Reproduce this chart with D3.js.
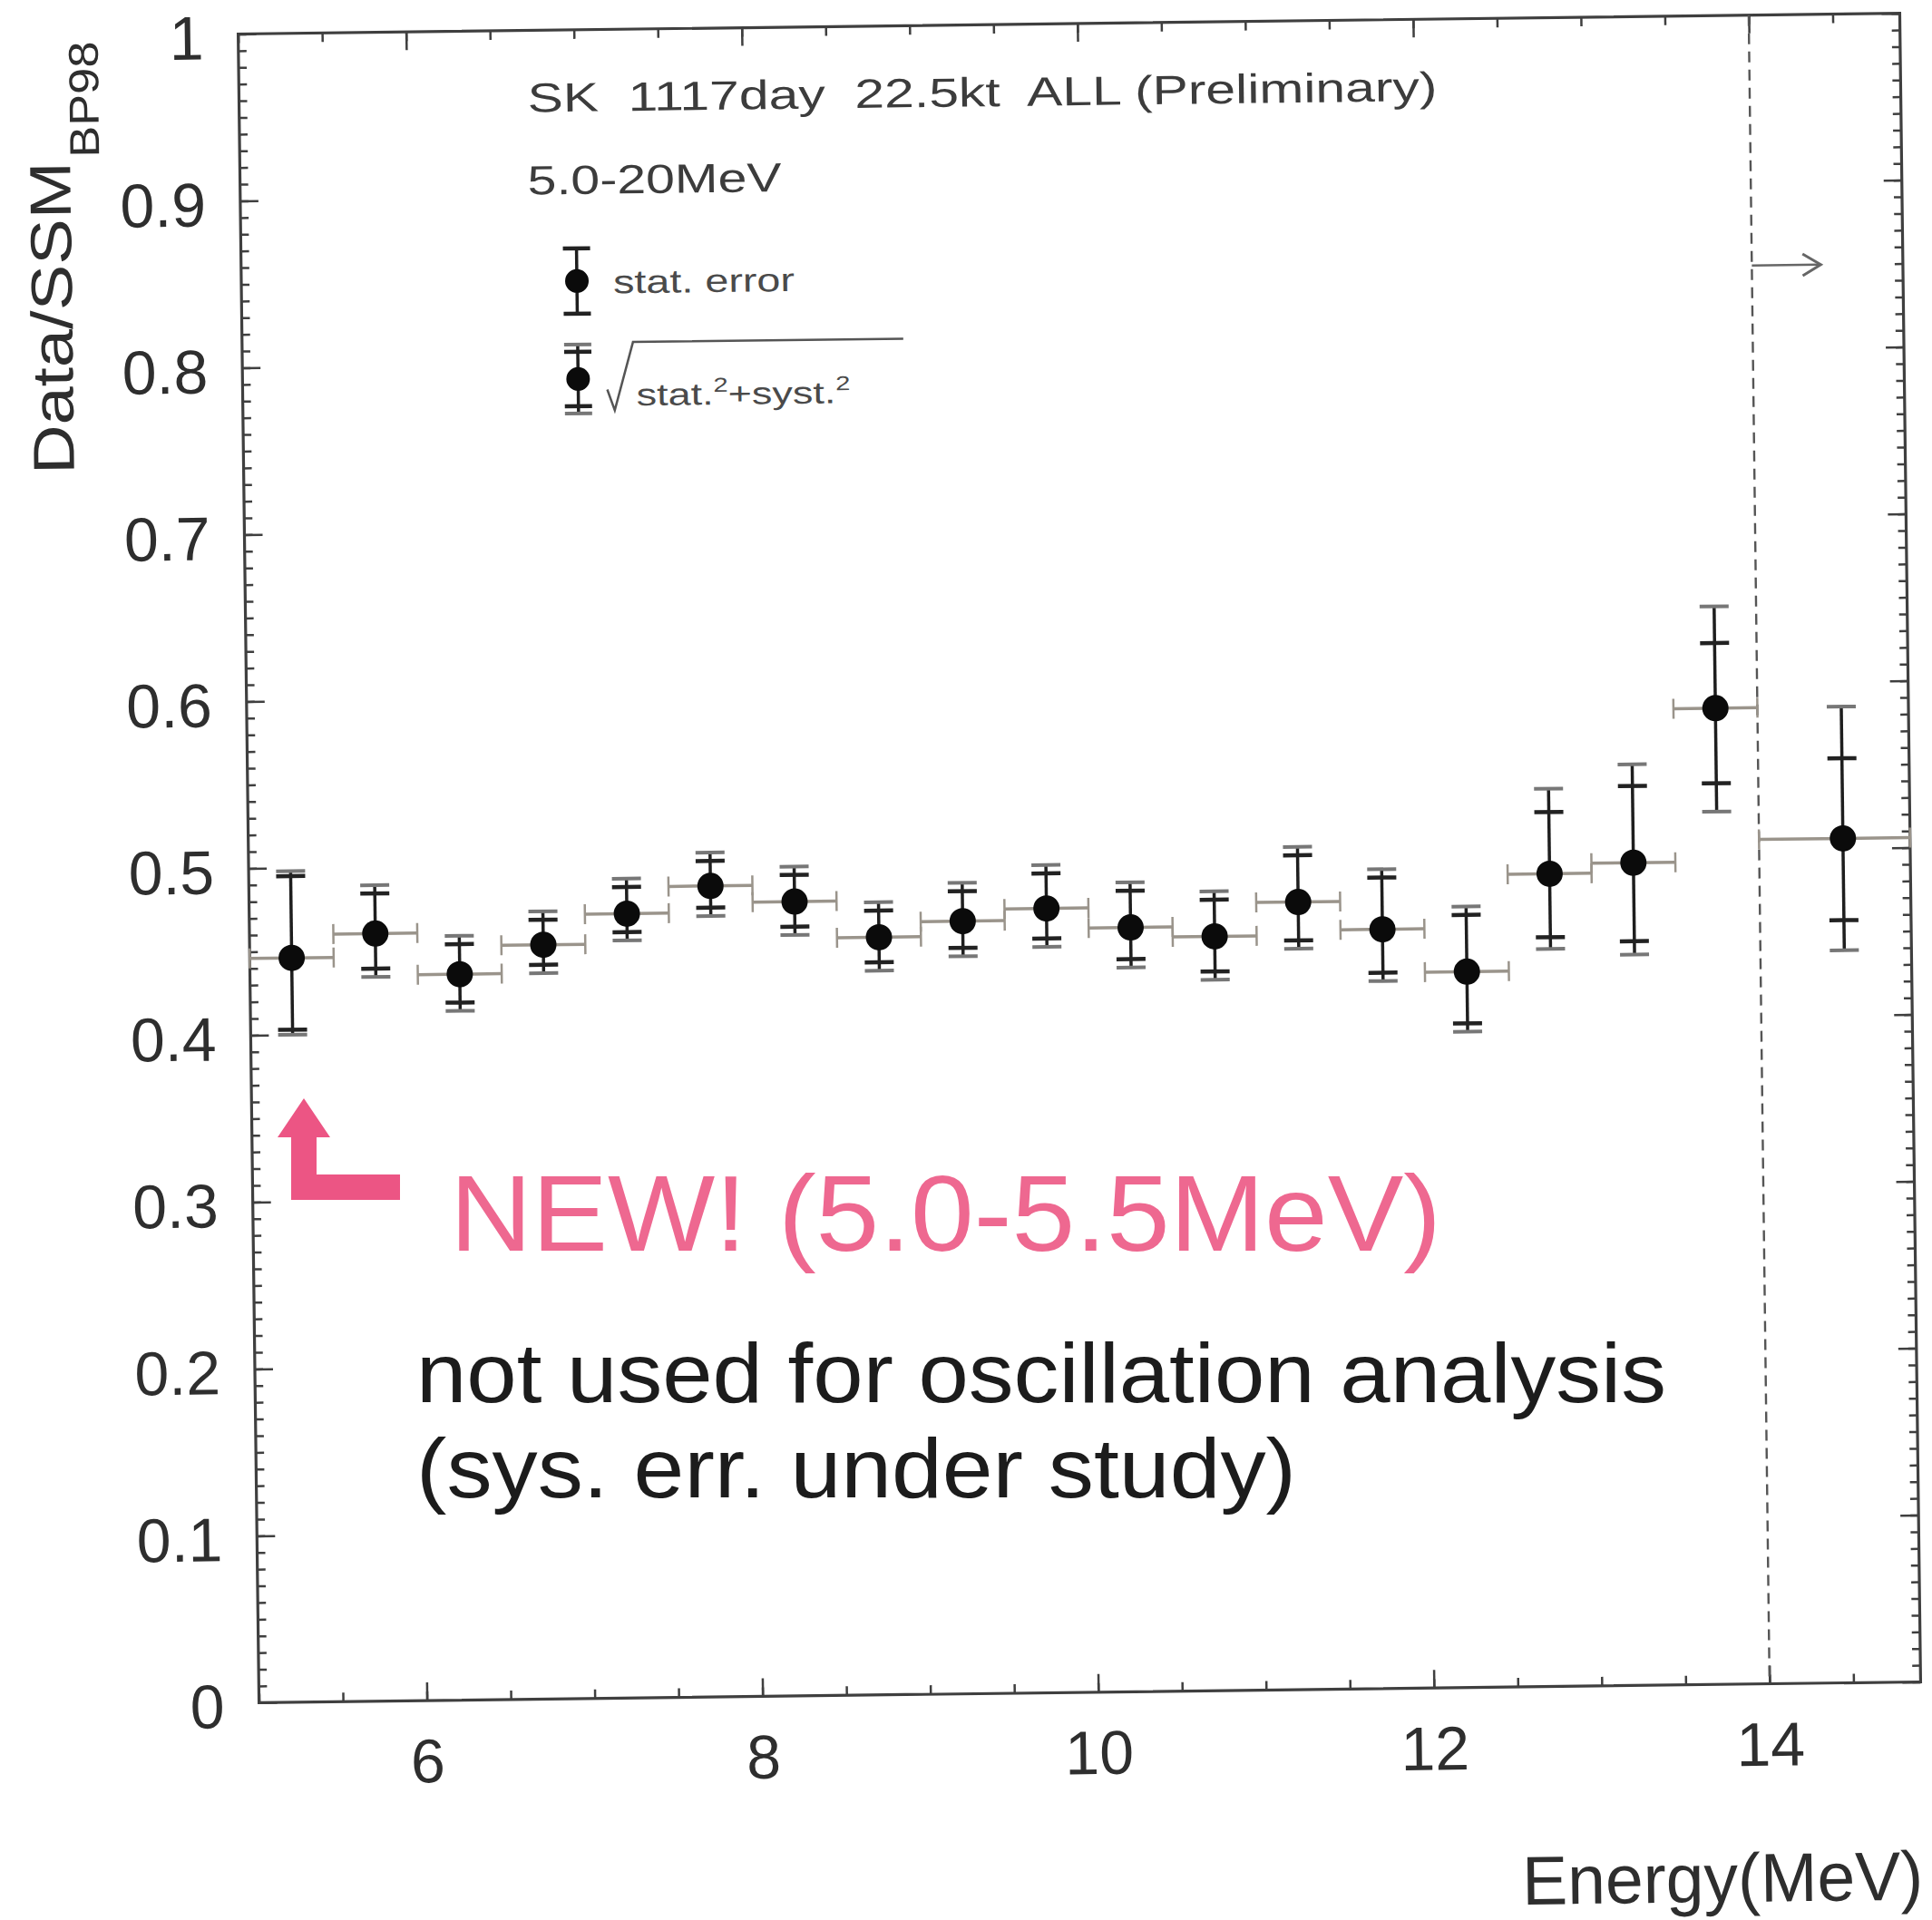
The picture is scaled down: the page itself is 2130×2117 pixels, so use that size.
<!DOCTYPE html>
<html>
<head>
<meta charset="utf-8">
<script src="https://cdn.jsdelivr.net/npm/d3@7"></script>
<style>
  html, body { margin: 0; padding: 0; background: #fff; }
  svg { display: block; }
</style>
</head>
<body>
<svg id="chart" width="2130" height="2117"></svg>
<script>
// ---- Data: SK 1117-day recoil-electron energy spectrum, Data / SSM(BP98) ----
// Bin centres in MeV; the last entry stands for the 14-20 MeV bin drawn in the right-hand panel.
const energy   = [5.25, 5.75, 6.25, 6.75, 7.25, 7.75, 8.25, 8.75, 9.25, 9.75,
                  10.25, 10.75, 11.25, 11.75, 12.25, 12.75, 13.25, 13.75, 14.5];
const binLow   = [5.0, 5.5, 6.0, 6.5, 7.0, 7.5, 8.0, 8.5, 9.0, 9.5,
                  10.0, 10.5, 11.0, 11.5, 12.0, 12.5, 13.0, 13.5, 14.0];
const binHigh  = [5.5, 6.0, 6.5, 7.0, 7.5, 8.0, 8.5, 9.0, 9.5, 10.0,
                  10.5, 11.0, 11.5, 12.0, 12.5, 13.0, 13.5, 14.0, 14.9];
const ratio    = [0.446, 0.460, 0.435, 0.452, 0.470, 0.486, 0.476, 0.454, 0.463, 0.470,
                  0.458, 0.452, 0.472, 0.455, 0.429, 0.487, 0.493, 0.585, 0.506];
const statLow  = [0.403, 0.439, 0.418, 0.440, 0.459, 0.473, 0.461, 0.439, 0.447, 0.452,
                  0.439, 0.431, 0.449, 0.429, 0.398, 0.449, 0.446, 0.540, 0.457];
const statHigh = [0.495, 0.484, 0.453, 0.467, 0.486, 0.501, 0.492, 0.470, 0.481, 0.491,
                  0.480, 0.474, 0.500, 0.486, 0.463, 0.524, 0.539, 0.624, 0.554];
const totalLow = [0.400, 0.434, 0.413, 0.435, 0.454, 0.468, 0.456, 0.434, 0.442, 0.447,
                  0.434, 0.426, 0.444, 0.424, 0.393, 0.442, 0.438, 0.523, 0.439];
const totalHigh= [0.498, 0.489, 0.458, 0.472, 0.491, 0.506, 0.497, 0.475, 0.486, 0.496,
                  0.485, 0.479, 0.505, 0.491, 0.468, 0.538, 0.552, 0.646, 0.585];

const xTicks       = [6, 8, 10, 12, 14];
const xTickLabels  = ["6", "8", "10", "12", "14"];
const yTicks       = [0, 0.1, 0.2, 0.3, 0.4, 0.5, 0.6, 0.7, 0.8, 0.9, 1];
const yTickLabels  = ["0", "0.1", "0.2", "0.3", "0.4", "0.5", "0.6", "0.7", "0.8", "0.9", "1"];

// ---- Layout ----
const W = 2130, H = 2117;
const FONT = "'Liberation Sans', Arial, Helvetica, sans-serif";
const frame = { left: 274, right: 2106, top: 26, bottom: 1866 };
const ink = "#2e2e2e", axisInk = "#3f3f3f", pink = "#ec5584";

const svg = d3.select("#chart");
svg.append("rect").attr("width", W).attr("height", H).attr("fill", "#fff");

const x = d3.scaleLinear().domain([5, 14.9]).range([frame.left, frame.right]);
const y = d3.scaleLinear().domain([0, 1]).range([frame.bottom, frame.top]);

// The whole figure sits slightly tilted on the page
const plot = svg.append("g").attr("transform", "rotate(-0.716, 1190, 945)");

// ---- Axes (ticks point inwards on all four sides) ----
const xMinor = d3.range(5, 14.9, 0.5);
const yMinor = d3.range(0, 101).map(i => i / 100);

function tidy(g) {
  g.select(".domain").remove();
  g.selectAll(".tick line").attr("stroke", axisInk).attr("stroke-width", 2.5);
}

// bottom
plot.append("g").attr("transform", `translate(0,${frame.bottom})`)
  .call(d3.axisBottom(x).tickValues(xMinor).tickSize(-10).tickSizeOuter(0).tickFormat(""))
  .call(tidy);
plot.append("g").attr("transform", `translate(0,${frame.bottom})`)
  .call(d3.axisBottom(x).tickValues(xTicks).tickSize(-20).tickSizeOuter(0).tickPadding(42)
        .tickFormat((d, i) => xTickLabels[i]))
  .call(tidy)
  .attr("font-family", FONT).attr("font-size", 68)
  .call(g => g.selectAll("text").attr("fill", ink));

// top
plot.append("g").attr("transform", `translate(0,${frame.top})`)
  .call(d3.axisTop(x).tickValues(xMinor).tickSize(-10).tickSizeOuter(0).tickFormat(""))
  .call(tidy);
plot.append("g").attr("transform", `translate(0,${frame.top})`)
  .call(d3.axisTop(x).tickValues(xTicks).tickSize(-20).tickSizeOuter(0).tickFormat(""))
  .call(tidy);

// left
plot.append("g").attr("transform", `translate(${frame.left},0)`)
  .call(d3.axisLeft(y).tickValues(yMinor).tickSize(-9).tickSizeOuter(0).tickFormat(""))
  .call(tidy);
plot.append("g").attr("transform", `translate(${frame.left},0)`)
  .call(d3.axisLeft(y).tickValues(yTicks).tickSize(-20).tickSizeOuter(0).tickPadding(38)
        .tickFormat((d, i) => yTickLabels[i]))
  .call(tidy)
  .attr("font-family", FONT).attr("font-size", 68)
  .call(g => g.selectAll("text").attr("fill", ink).attr("dy", 27));

// right
plot.append("g").attr("transform", `translate(${frame.right},0)`)
  .call(d3.axisRight(y).tickValues(yMinor).tickSize(-9).tickSizeOuter(0).tickFormat(""))
  .call(tidy);
plot.append("g").attr("transform", `translate(${frame.right},0)`)
  .call(d3.axisRight(y).tickValues(yTicks).tickSize(-20).tickSizeOuter(0).tickFormat(""))
  .call(tidy);

// frame
plot.append("rect")
  .attr("x", frame.left).attr("y", frame.top)
  .attr("width", frame.right - frame.left).attr("height", frame.bottom - frame.top)
  .attr("fill", "none").attr("stroke", axisInk).attr("stroke-width", 3.2);

// dashed divider at 14 MeV and the "to 20 MeV" arrow
plot.append("line")
  .attr("x1", x(14)).attr("x2", x(14)).attr("y1", frame.top).attr("y2", frame.bottom)
  .attr("stroke", "#555").attr("stroke-width", 2.4).attr("stroke-dasharray", "12 8");
const arrowY = y(0.85);
plot.append("line")
  .attr("x1", x(14)).attr("x2", x(14) + 74).attr("y1", arrowY).attr("y2", arrowY)
  .attr("stroke", "#666").attr("stroke-width", 2.5);
plot.append("path")
  .attr("d", `M${x(14) + 56},${arrowY - 12} L${x(14) + 76},${arrowY} L${x(14) + 56},${arrowY + 12}`)
  .attr("fill", "none").attr("stroke", "#666").attr("stroke-width", 3);

// ---- Data points ----
const pts = energy.map((e, i) => ({
  e, lo: binLow[i], hi: binHigh[i], v: ratio[i],
  sl: statLow[i], sh: statHigh[i], tl: totalLow[i], th: totalHigh[i]
}));
const gp = plot.append("g");
const capW = 16;

// bin-width bars with small end marks
gp.selectAll("line.hbar").data(pts).join("line").attr("class", "hbar")
  .attr("x1", d => x(d.lo)).attr("x2", d => x(d.hi))
  .attr("y1", d => y(d.v)).attr("y2", d => y(d.v))
  .attr("stroke", "#9a948b").attr("stroke-width", 3.5);
gp.selectAll("path.edge").data(pts).join("path").attr("class", "edge")
  .attr("d", d => `M${x(d.lo)},${y(d.v) - 11}V${y(d.v) + 11}M${x(d.hi)},${y(d.v) - 11}V${y(d.v) + 11}`)
  .attr("fill", "none").attr("stroke", "#9a948b").attr("stroke-width", 2.5);

// vertical error bars (stat+syst extent)
gp.selectAll("line.vbar").data(pts).join("line").attr("class", "vbar")
  .attr("x1", d => x(d.e)).attr("x2", d => x(d.e))
  .attr("y1", d => y(d.th)).attr("y2", d => y(d.tl))
  .attr("stroke", "#1e1e1e").attr("stroke-width", 3.5);

// caps: outer = sqrt(stat^2+syst^2), inner = statistical
gp.selectAll("path.tcap").data(pts).join("path").attr("class", "tcap")
  .attr("d", d => `M${x(d.e) - capW},${y(d.th)}H${x(d.e) + capW}M${x(d.e) - capW},${y(d.tl)}H${x(d.e) + capW}`)
  .attr("fill", "none").attr("stroke", "#777").attr("stroke-width", 4);
gp.selectAll("path.scap").data(pts).join("path").attr("class", "scap")
  .attr("d", d => `M${x(d.e) - capW},${y(d.sh)}H${x(d.e) + capW}M${x(d.e) - capW},${y(d.sl)}H${x(d.e) + capW}`)
  .attr("fill", "none").attr("stroke", "#222").attr("stroke-width", 4.5);

gp.selectAll("circle").data(pts).join("circle")
  .attr("cx", d => x(d.e)).attr("cy", d => y(d.v)).attr("r", 14.5)
  .attr("fill", "#0b0b0b");

// ---- Header and legend ----
plot.append("text")
  .attr("x", 592).attr("y", 116)
  .attr("xml:space", "preserve")
  .attr("font-family", FONT).attr("font-size", 45).attr("fill", "#3c3c3c")
  .attr("textLength", 1003).attr("lengthAdjust", "spacingAndGlyphs")
  .text("SK  1117day  22.5kt  ALL (Preliminary)");
plot.append("text")
  .attr("x", 591).attr("y", 207)
  .attr("font-family", FONT).attr("font-size", 45).attr("fill", "#3c3c3c")
  .attr("textLength", 280).attr("lengthAdjust", "spacingAndGlyphs")
  .text("5.0-20MeV");

const legendX = 644;
const legend = [
  { cy: 303, outer: null, inner: 36 },
  { cy: 411, outer: 38, inner: 30 }
];
const gl = plot.append("g");
legend.forEach(l => {
  const half = l.outer || l.inner;
  gl.append("line").attr("x1", legendX).attr("x2", legendX)
    .attr("y1", l.cy - half).attr("y2", l.cy + half)
    .attr("stroke", "#1e1e1e").attr("stroke-width", 3.5);
  if (l.outer) {
    gl.append("path")
      .attr("d", `M${legendX - 15},${l.cy - l.outer}H${legendX + 15}M${legendX - 15},${l.cy + l.outer}H${legendX + 15}`)
      .attr("fill", "none").attr("stroke", "#777").attr("stroke-width", 4);
  }
  gl.append("path")
    .attr("d", `M${legendX - 15},${l.cy - l.inner}H${legendX + 15}M${legendX - 15},${l.cy + l.inner}H${legendX + 15}`)
    .attr("fill", "none").attr("stroke", "#222").attr("stroke-width", 4.5);
  gl.append("circle").attr("cx", legendX).attr("cy", l.cy).attr("r", 13).attr("fill", "#0b0b0b");
});
gl.append("text")
  .attr("x", 684).attr("y", 317)
  .attr("font-family", FONT).attr("font-size", 36).attr("fill", "#4a4a4a")
  .attr("textLength", 200).attr("lengthAdjust", "spacingAndGlyphs")
  .text("stat. error");
// square-root sign over stat^2 + syst^2
gl.append("path")
  .attr("d", "M676,423 L684,446 L705,371 L1003,371")
  .attr("fill", "none").attr("stroke", "#555").attr("stroke-width", 2.5);
const sq = gl.append("text")
  .attr("x", 708).attr("y", 441)
  .attr("font-family", FONT).attr("font-size", 34).attr("fill", "#4a4a4a")
  .attr("textLength", 236).attr("lengthAdjust", "spacingAndGlyphs");
sq.append("tspan").text("stat.");
sq.append("tspan").attr("dy", -14).attr("font-size", 22).text("2");
sq.append("tspan").attr("dy", 14).text("+syst.");
sq.append("tspan").attr("dy", -14).attr("font-size", 22).text("2");

// ---- Axis titles ----
plot.append("text")
  .attr("transform", "translate(87,509) rotate(-90)")
  .attr("font-family", FONT).attr("font-size", 64).attr("fill", ink)
  .attr("textLength", 345).attr("lengthAdjust", "spacingAndGlyphs")
  .text("Data/SSM");
plot.append("text")
  .attr("transform", "translate(119,160) rotate(-90)")
  .attr("font-family", FONT).attr("font-size", 46).attr("fill", ink)
  .attr("textLength", 128).attr("lengthAdjust", "spacingAndGlyphs")
  .text("BP98");
plot.append("text")
  .attr("x", frame.right).attr("y", 2106)
  .attr("text-anchor", "end")
  .attr("font-family", FONT).attr("font-size", 76).attr("fill", ink)
  .attr("textLength", 442).attr("lengthAdjust", "spacingAndGlyphs")
  .text("Energy(MeV)");

// ---- Slide annotations on top of the figure ----
svg.append("path")
  .attr("d", "M335,1211 L364,1254 L349,1254 L349,1295 L441,1295 L441,1323 L321,1323 L321,1254 L306,1254 Z")
  .attr("fill", pink);
svg.append("text")
  .attr("x", 496).attr("y", 1379)
  .attr("font-family", FONT).attr("font-size", 118).attr("fill", "#ee6890")
  .attr("textLength", 1093).attr("lengthAdjust", "spacingAndGlyphs")
  .text("NEW! (5.0-5.5MeV)");
svg.append("text")
  .attr("x", 459).attr("y", 1546)
  .attr("font-family", FONT).attr("font-size", 92).attr("fill", "#1c1c1c")
  .attr("textLength", 1378).attr("lengthAdjust", "spacingAndGlyphs")
  .text("not used for oscillation analysis");
svg.append("text")
  .attr("x", 459).attr("y", 1651)
  .attr("font-family", FONT).attr("font-size", 92).attr("fill", "#1c1c1c")
  .attr("textLength", 970).attr("lengthAdjust", "spacingAndGlyphs")
  .text("(sys. err. under study)");
</script>
</body>
</html>
